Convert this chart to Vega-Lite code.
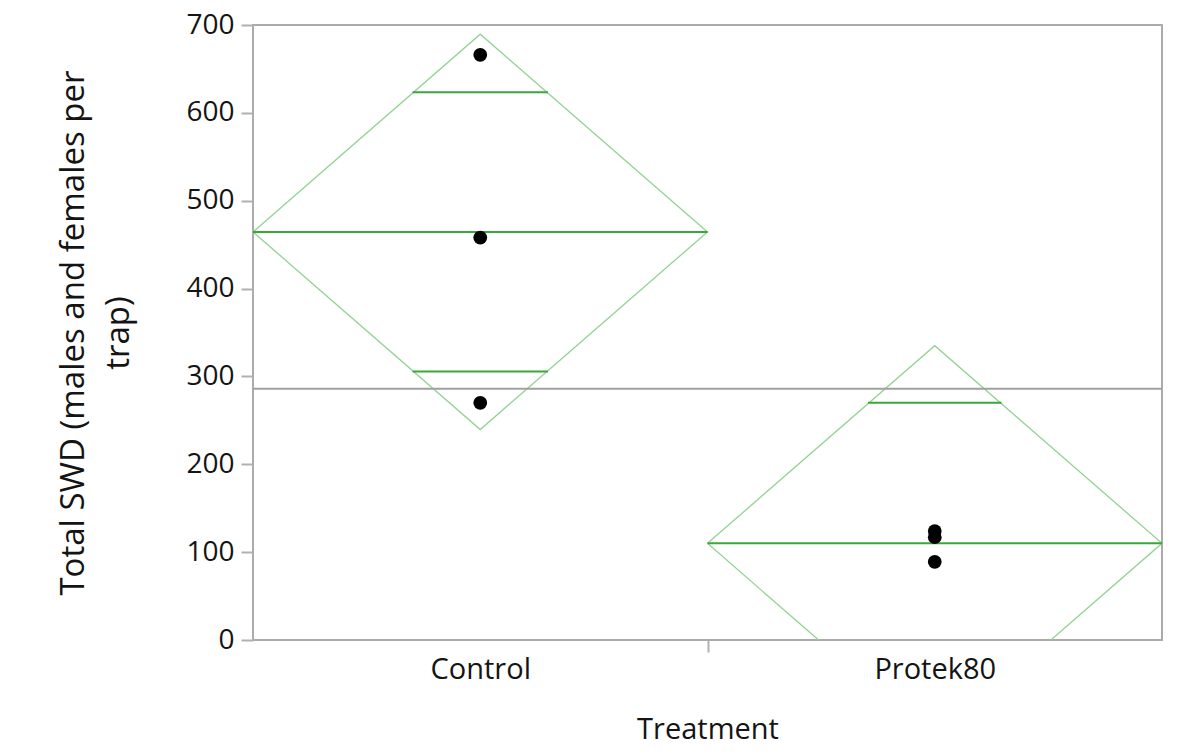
{
  "$schema": "https://vega.github.io/schema/vega-lite/v6.json",
  "width": 909,
  "height": 615,
  "autosize": {"type": "none"},
  "padding": {"left": 253, "top": 25, "right": 19, "bottom": 115},
  "background": "white",
  "config": {
    "view": {"stroke": "#ababab", "strokeWidth": 2},
    "font": "Open Sans"
  },
  "datasets": {
    "points": [
      {"Treatment": "Control", "g": 0.5, "SWD": 666},
      {"Treatment": "Control", "g": 0.5, "SWD": 458},
      {"Treatment": "Control", "g": 0.5, "SWD": 270},
      {"Treatment": "Protek80", "g": 1.5, "SWD": 124},
      {"Treatment": "Protek80", "g": 1.5, "SWD": 117},
      {"Treatment": "Protek80", "g": 1.5, "SWD": 89}
    ],
    "diamond": [
      {"Treatment": "Control", "k": 1, "pos": 0, "v": 464.5},
      {"Treatment": "Control", "k": 2, "pos": 0.5, "v": 689.5},
      {"Treatment": "Control", "k": 3, "pos": 1, "v": 464.5},
      {"Treatment": "Control", "k": 4, "pos": 0.5, "v": 239.5},
      {"Treatment": "Control", "k": 5, "pos": 0, "v": 464.5},
      {"Treatment": "Protek80", "k": 1, "pos": 1, "v": 110},
      {"Treatment": "Protek80", "k": 2, "pos": 1.5, "v": 335},
      {"Treatment": "Protek80", "k": 3, "pos": 2, "v": 110},
      {"Treatment": "Protek80", "k": 4, "pos": 1.5, "v": -115},
      {"Treatment": "Protek80", "k": 5, "pos": 1, "v": 110}
    ],
    "means": [
      {"Treatment": "Control", "a": 0, "b": 1, "m": 464.5},
      {"Treatment": "Protek80", "a": 1, "b": 2, "m": 110}
    ],
    "overlap": [
      {"Treatment": "Control", "a": 0.351, "b": 0.649, "o": 623.5},
      {"Treatment": "Control", "a": 0.351, "b": 0.649, "o": 305.5},
      {"Treatment": "Protek80", "a": 1.353, "b": 1.647, "o": 270}
    ]
  },
  "layer": [
    {
      "data": {"name": "diamond"},
      "mark": {"type": "line", "color": "#93d293", "strokeWidth": 1.3, "clip": true},
      "encoding": {
        "x": {
          "field": "pos", "type": "quantitative",
          "scale": {"domain": [0, 2], "nice": false, "zero": false},
          "axis": {
            "title": "Treatment",
            "values": [0.5, 1, 1.5],
            "labelExpr": "datum.value == 0.5 ? 'Control' : (datum.value == 1.5 ? 'Protek80' : '')",
            "grid": false,
            "domain": false,
            "tickSize": 12,
            "tickWidth": 2,
            "tickColor": {"condition": {"test": "datum.value == 1", "value": "#b0b0b0"}, "value": "transparent"},
            "labelFontSize": 29,
            "labelColor": "#141414",
            "labelBaseline": "alphabetic",
            "labelPadding": 26,
            "labelFont": "Open Sans",
            "titleFontSize": 29,
            "titleFontWeight": "normal",
            "titleColor": "#141414",
            "titleBaseline": "alphabetic",
            "titleY": 98,
            "titleX": 454.5,
            "titleFont": "Open Sans"
          }
        },
        "y": {
          "field": "v", "type": "quantitative",
          "scale": {"domain": [0, 700], "nice": false, "zero": false},
          "axis": {
            "title": ["Total SWD (males and females per", "trap)"],
            "values": [0, 100, 200, 300, 400, 500, 600, 700],
            "grid": false,
            "domain": false,
            "tickSize": 12,
            "tickWidth": 2,
            "tickColor": "#b0b0b0",
            "labelFontSize": 28,
            "labelColor": "#141414",
            "labelPadding": 7,
            "labelFont": "Open Sans",
            "titleFontSize": 33,
            "titleFontWeight": "normal",
            "titleColor": "#141414",
            "titleBaseline": "alphabetic",
            "titleAngle": -90,
            "titleAlign": "center",
            "titleX": -170,
            "titleY": 307.5,
            "titleLineHeight": 45,
            "titleFont": "Open Sans"
          }
        },
        "detail": {"field": "Treatment"},
        "order": {"field": "k", "type": "quantitative"}
      }
    },
    {
      "data": {"name": "means"},
      "mark": {"type": "rule", "color": "#38a838", "strokeWidth": 2, "clip": true},
      "encoding": {
        "x": {"field": "a", "type": "quantitative"},
        "x2": {"field": "b"},
        "y": {"field": "m", "type": "quantitative"}
      }
    },
    {
      "data": {"name": "overlap"},
      "mark": {"type": "rule", "color": "#38a838", "strokeWidth": 2, "clip": true},
      "encoding": {
        "x": {"field": "a", "type": "quantitative"},
        "x2": {"field": "b"},
        "y": {"field": "o", "type": "quantitative"}
      }
    },
    {
      "data": {"values": [{"grand": 286}]},
      "mark": {"type": "rule", "color": "#a0a0a0", "strokeWidth": 2.2},
      "encoding": {
        "y": {"field": "grand", "type": "quantitative"}
      }
    },
    {
      "data": {"name": "points"},
      "mark": {"type": "circle", "color": "black", "opacity": 1, "size": 190},
      "encoding": {
        "x": {"field": "g", "type": "quantitative"},
        "y": {"field": "SWD", "type": "quantitative"}
      }
    }
  ]
}
